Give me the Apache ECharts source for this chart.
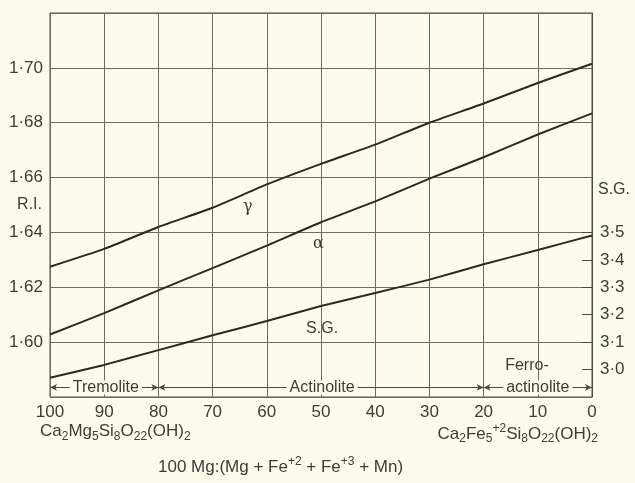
<!DOCTYPE html>
<html>
<head>
<meta charset="utf-8">
<script src="https://cdn.jsdelivr.net/npm/echarts@6/dist/echarts.min.js"></script>
<style>
html,body{margin:0;padding:0;background:#fcfcee;}
#chart{width:635px;height:483px;}
</style>
</head>
<body>
<div id="chart"></div>
<script>
// Composition: 100 Mg:(Mg + Fe+2 + Fe+3 + Mn)
const xValues = [100, 90, 80, 70, 60, 50, 40, 30, 20, 10, 0];
// Refractive indices
const gammaRI = [1.6275, 1.634, 1.642, 1.649, 1.6575, 1.665, 1.672, 1.680, 1.687, 1.6945, 1.7015];
const alphaRI = [1.6028, 1.6106, 1.6189, 1.627, 1.6352, 1.6437, 1.6513, 1.6596, 1.6674, 1.6757, 1.6834];
// Specific gravity
const sgValues = [2.970, 3.017, 3.071, 3.125, 3.177, 3.232, 3.279, 3.328, 3.384, 3.436, 3.489];

const riTickLabels = [1.60, 1.62, 1.64, 1.66, 1.68, 1.70];
const sgTickLabels = [3.0, 3.1, 3.2, 3.3, 3.4, 3.5];
const xTickLabels = [100, 90, 80, 70, 60, 50, 40, 30, 20, 10, 0];

// Composition ranges [from, to, label, labelCentre]
const ranges = [
  [100, 80, 'Tremolite', 89.7],
  [80, 20, 'Actinolite', 49.8],
  [20, 0, 'actinolite', 10]
];

const FONT = 'Liberation Sans, Arial, Helvetica, sans-serif';
const TXT = '#3c3c38';
const LINE = '#2a2a24';
const GRIDC = '#6b6b62';
const BG = '#fcfcee';
const rangeY = 1.5835;

const pair = (xs, ys) => xs.map((x, i) => [x, ys[i]]);
const dot = (v, d) => v.toFixed(d).replace('.', '\u00b7');

const chart = echarts.init(document.getElementById('chart'));
chart.setOption({
  backgroundColor: BG,
  animation: false,
  textStyle: { fontFamily: FONT },
  grid: { left: 50, right: 43, top: 13, bottom: 86, containLabel: false, outerBoundsMode: 'none',
    show: true, borderColor: '#4a4a44', borderWidth: 1, backgroundColor: BG },
  xAxis: {
    type: 'value', min: 0, max: 100, interval: 10, inverse: true,
    axisLine: { show: false }, axisTick: { show: false },
    splitLine: { show: true, lineStyle: { color: GRIDC, width: 1 } },
    axisLabel: { color: TXT, fontSize: 17, margin: 7, fontFamily: FONT,
      customValues: xTickLabels, formatter: v => String(Math.round(v)) }
  },
  yAxis: [{
    type: 'value', min: 1.58, max: 1.72, interval: 0.02,
    name: 'R.I.', nameLocation: 'middle', nameRotate: 0, nameGap: 8, nameMoveOverlap: false,
    nameTextStyle: { color: TXT, fontSize: 16, fontFamily: FONT, align: 'right', verticalAlign: 'middle' },
    axisLine: { show: false }, axisTick: { show: false },
    splitLine: { show: true, lineStyle: { color: GRIDC, width: 1 } },
    axisLabel: { color: TXT, fontSize: 17, margin: 7, fontFamily: FONT,
      customValues: riTickLabels, formatter: v => dot(v, 2) }
  }, {
    type: 'value', min: 2.9, max: 4.3, position: 'right',
    axisLine: { show: true, lineStyle: { color: '#4a4a44' } },
    axisTick: { show: true, inside: true, length: 10, lineStyle: { color: '#4a4a44' }, customValues: sgTickLabels },
    splitLine: { show: false },
    axisLabel: { color: TXT, fontSize: 17, margin: 8, fontFamily: FONT,
      customValues: sgTickLabels, formatter: v => dot(v, 1) }
  }],
  series: [{
    type: 'line', name: 'ranges', data: [], silent: true, z: 1,
    markLine: {
      silent: true, symbol: ['arrow', 'arrow'], symbolSize: [5, 7],
      lineStyle: { color: '#4a4a44', width: 1, type: 'solid' },
      label: { show: false },
      data: ranges.map(r => [{ coord: [r[0], rangeY] }, { coord: [r[1], rangeY] }])
    },
    markPoint: { symbol: 'circle', symbolSize: 0, silent: true,
      label: { show: true, position: 'inside', color: TXT, fontSize: 16, fontFamily: FONT,
        backgroundColor: BG, padding: [0, 3], lineHeight: 14, formatter: p => p.name },
      data: ranges.map(r => ({ name: r[2], coord: [r[3], rangeY] }))
        .concat([{ name: 'Ferro-', coord: [12, 1.5916], label: { backgroundColor: 'transparent' } }]) }
  }, {
    type: 'line', name: 'gamma', data: pair(xValues, gammaRI), smooth: 0.15, z: 3,
    showSymbol: false, lineStyle: { color: LINE, width: 2 },
    markPoint: { symbol: 'circle', symbolSize: 0, silent: true,
      label: { show: true, position: 'inside', color: TXT, fontSize: 16, fontFamily: 'DejaVu Serif, serif', formatter: '\u03b3' },
      data: [{ coord: [63.5, 1.6495] }] }
  }, {
    type: 'line', name: 'alpha', data: pair(xValues, alphaRI), smooth: 0.15, z: 3,
    showSymbol: false, lineStyle: { color: LINE, width: 2 },
    markPoint: { symbol: 'circle', symbolSize: 0, silent: true,
      label: { show: true, position: 'inside', color: TXT, fontSize: 16, fontFamily: 'DejaVu Serif, serif', formatter: '\u03b1' },
      data: [{ coord: [50.5, 1.6359] }] }
  }, {
    type: 'line', name: 'sg', yAxisIndex: 1, data: pair(xValues, sgValues), smooth: 0.15, z: 3,
    showSymbol: false, lineStyle: { color: LINE, width: 2 },
    markPoint: { symbol: 'circle', symbolSize: 0, silent: true,
      label: { show: true, position: 'inside', color: TXT, fontSize: 16, fontFamily: FONT, formatter: p => p.name },
      data: [{ name: 'S.G.', coord: [49.8, 3.148] },
             { name: 'S.G.', coord: [0, 3.655], label: { position: 'right', distance: 6 } }] }
  }],
  graphic: [{
    type: 'text', left: 40, top: 423,
    style: {
      text: '{n|Ca}{s|2}{n|Mg}{s|5}{n|Si}{s|8}{n|O}{s|22}{n|(OH)}{s|2}',
      fill: TXT, font: '17px ' + FONT,
      rich: {
        n: { fontSize: 17, lineHeight: 22, fontFamily: FONT, fill: TXT },
        s: { fontSize: 12, lineHeight: 12, verticalAlign: 'bottom', fontFamily: FONT, fill: TXT }
      }
    }
  }, {
    type: 'text', right: 37, top: 423,
    style: {
      text: '{n|Ca}{s|2}{n|Fe}{s|5}{p|+2}{n|Si}{s|8}{n|O}{s|22}{n|(OH)}{s|2}',
      fill: TXT, font: '17px ' + FONT,
      rich: {
        n: { fontSize: 17, lineHeight: 22, fontFamily: FONT, fill: TXT },
        s: { fontSize: 12, lineHeight: 12, verticalAlign: 'bottom', fontFamily: FONT, fill: TXT },
        p: { fontSize: 12, lineHeight: 12, verticalAlign: 'top', fontFamily: FONT, fill: TXT }
      }
    }
  }, {
    type: 'text', left: 158, top: 456,
    style: {
      text: '{n|100 Mg:(Mg + Fe}{p|+2}{n| + Fe}{p|+3}{n| + Mn)}',
      fill: TXT, font: '17px ' + FONT,
      rich: {
        n: { fontSize: 17, lineHeight: 22, fontFamily: FONT, fill: TXT },
        p: { fontSize: 12, lineHeight: 12, verticalAlign: 'top', fontFamily: FONT, fill: TXT }
      }
    }
  }]
});
</script>
</body>
</html>
